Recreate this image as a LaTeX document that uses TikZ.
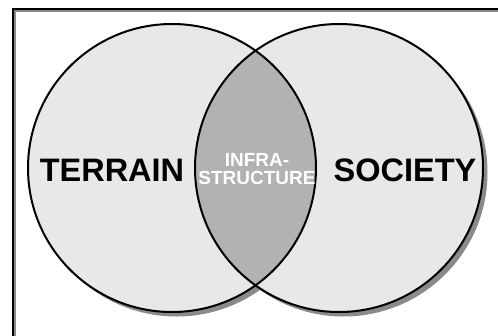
\documentclass[tikz,border=0pt]{standalone}
\usepackage{fontspec}
\setmainfont{Liberation Sans}
\definecolor{lightfill}{HTML}{E8E8E8}
\definecolor{lensfill}{HTML}{B2B2B2}
\definecolor{shadowgray}{HTML}{8A8A8A}
\tikzset{
  outline/.style={draw=black, line width=2pt},
  bigword/.style={font=\fontsize{32.5}{32}\selectfont\bfseries, text=black, inner sep=0pt},
  smallword/.style={font=\fontsize{19}{17}\selectfont\bfseries, text=white, inner sep=0pt},
}
\begin{document}
\begin{tikzpicture}[x=1pt,y=-1pt]
\useasboundingbox (0,0) rectangle (498,335);
\clip (0,0) rectangle (498,335);
\fill[white] (0,0) rectangle (498,335);
% frame
\draw[shadowgray, line width=1.2pt] (15,400) -- (15,11) -- (560,11);
\draw[black, line width=1.8pt] (13,400) -- (13,9) -- (560,9);
% shadows
\fill[shadowgray] (176.5,172.5) circle (144pt);
\fill[shadowgray] (343.5,172.5) circle (144pt);
% circles
\coordinate (cl) at (172,168);
\coordinate (cr) at (339,168);
\fill[lightfill] (cl) circle (144pt);
\fill[lightfill] (cr) circle (144pt);
\begin{scope}
  \clip (cl) circle (144pt);
  \fill[lensfill] (cr) circle (144pt);
\end{scope}
\draw[outline] (cl) circle (144pt);
\draw[outline] (cr) circle (144pt);
% labels
\node[bigword] (terrain) at (112,170) {TERRAIN};
\node[bigword] (society) at (405,170) {SOCIETY};
\node[smallword, anchor=base] (infra) at (257,166) {INFRA-};
\node[smallword, anchor=base] (structure) at (257,184) {STRUCTURE};
\end{tikzpicture}
\end{document}
